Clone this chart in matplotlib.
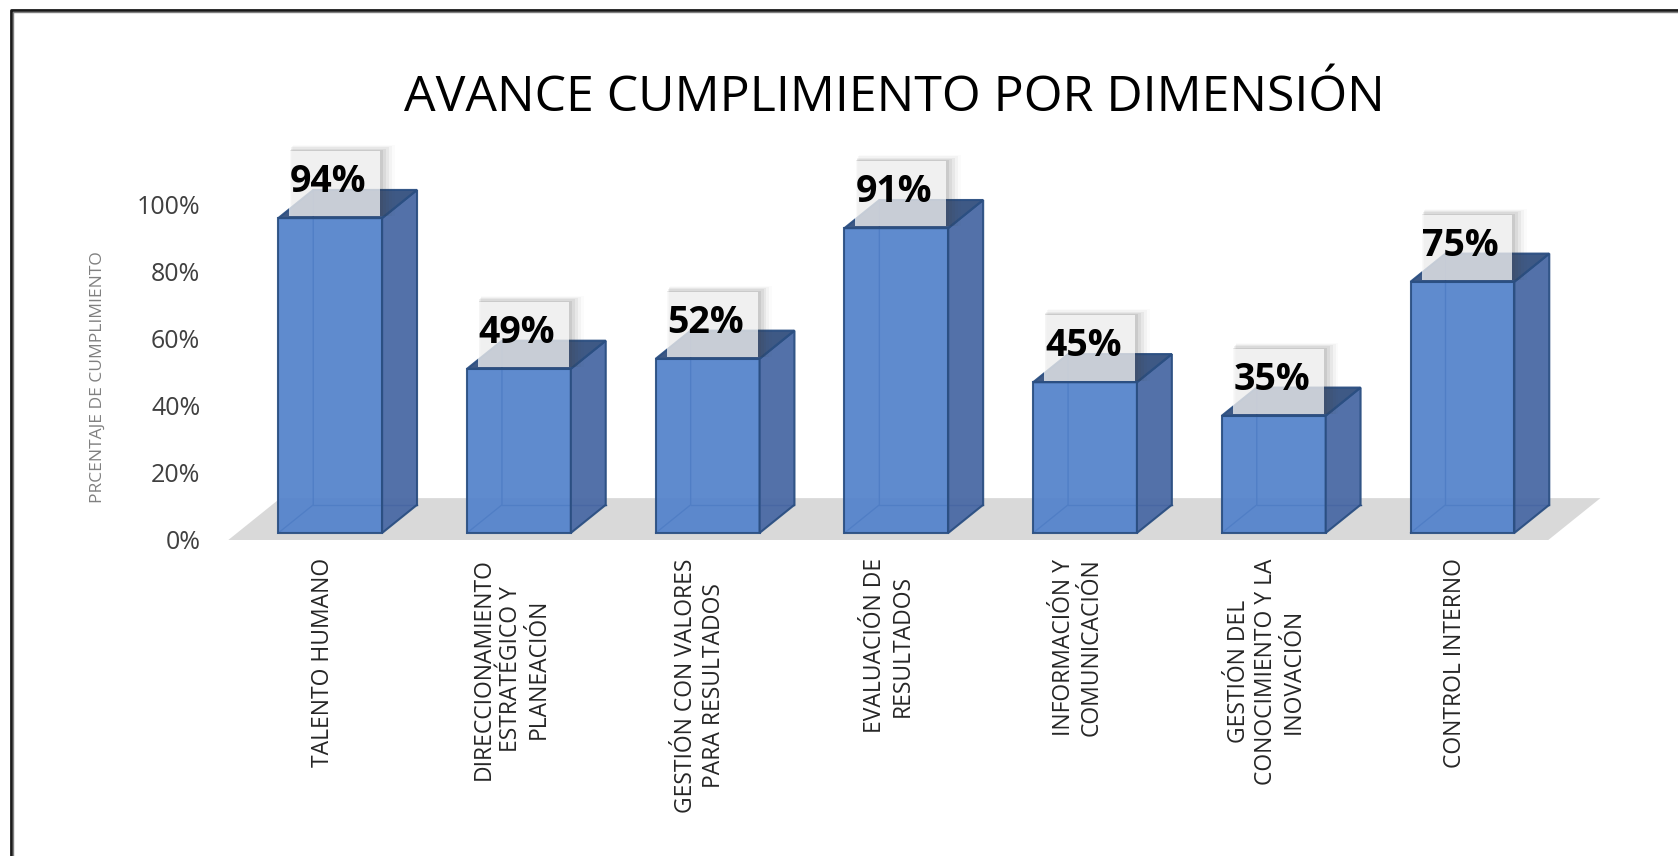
import numpy as np
import matplotlib
matplotlib.use('Agg')
import matplotlib.pyplot as plt
from matplotlib.patches import Polygon, Rectangle
from matplotlib.lines import Line2D
from matplotlib.transforms import ScaledTranslation

plt.rcParams['font.family'] = ['Open Sans', 'DejaVu Sans']

# data
categorias = ['TALENTO HUMANO',
              'DIRECCIONAMIENTO\nESTRATÉGICO Y\nPLANEACIÓN',
              'GESTIÓN CON VALORES\nPARA RESULTADOS',
              'EVALUACIÓN DE\nRESULTADOS',
              'INFORMACIÓN Y\nCOMUNICACIÓN',
              'GESTIÓN DEL\nCONOCIMIENTO Y LA\nINOVACIÓN',
              'CONTROL INTERNO']
avance = [0.94, 0.49, 0.52, 0.91, 0.45, 0.35, 0.75]
yticks = [0, 0.2, 0.4, 0.6, 0.8, 1.0]
ytick_labels = ['0%', '20%', '40%', '60%', '80%', '100%']

# look
W, H = 1678, 856
bar_w = 0.55
dx, dy = 0.185, 0.084          # depth of the 3d bars
fl_dx, fl_dy = 0.276, 0.125    # depth of the floor
c_front = '#5382cb'
c_side = '#4a69a5'
c_top = '#33507f'
c_edge = '#2b4f82'

fig = plt.figure(figsize=(W/100, H/100), dpi=100)
ax = fig.add_axes([217/W, (H-543)/H, 1387/W, 412/H])
ax.set_xlim(-0.6, 6.75)
ax.set_ylim(-0.03, 1.2)
for s in ax.spines.values():
    s.set_visible(False)

# floor
n = len(avance)
f0 = -0.021
fl_x0, fl_x1 = -0.54, n - 1 + 0.455
ax.add_patch(Polygon([(fl_x0, f0), (fl_x1, f0), (fl_x1+fl_dx, f0+fl_dy), (fl_x0+fl_dx, f0+fl_dy)],
                     closed=True, fc='#d9d9d9', ec='none', zorder=1))

for i, v in enumerate(avance):
    x0, x1 = i - bar_w/2, i + bar_w/2
    # back hidden edges (bars are slightly see-through)
    ax.add_line(Line2D([x0, x0+dx, x0+dx], [0, dy, v+dy], color=c_edge, lw=1, zorder=2))
    ax.add_line(Line2D([x0+dx, x1+dx], [dy, dy], color=c_edge, lw=1, zorder=2))
    front = Polygon([(x0, 0), (x1, 0), (x1, v), (x0, v)], closed=True,
                    fc=c_front, ec=c_edge, lw=1.5, alpha=0.93, zorder=3)
    side = Polygon([(x1, 0), (x1+dx, dy), (x1+dx, v+dy), (x1, v)], closed=True,
                   fc=c_side, ec=c_edge, lw=1.5, alpha=0.95, zorder=3)
    top = Polygon([(x0, v), (x1, v), (x1+dx, v+dy), (x0+dx, v+dy)], closed=True,
                  fc=c_top, ec=c_edge, lw=1.5, alpha=0.95, zorder=3)
    for p in (front, side, top):
        ax.add_patch(p)

    # label box with soft shadow
    bx0, bx1 = x0 + 0.058, x1 - 0.01
    by0, by1 = v + 0.005, v + 0.2
    for k, a in enumerate([0.10, 0.08, 0.06, 0.04, 0.02]):
        off = 0.012 * (k + 1)
        ax.add_patch(Rectangle((bx0 + off*0.3, by0), bx1 - bx0 + off, by1 - by0 + off*0.3,
                               fc='#404040', ec='none', alpha=a, zorder=4))
    ax.add_patch(Rectangle((bx0, by0), bx1 - bx0, by1 - by0,
                           fc='white', ec='none', alpha=0.72, zorder=5))
    ax.text(i - 0.01, v + 0.078, '{:.0f}%'.format(v*100), ha='center', va='baseline',
            fontsize=27, fontweight='bold', color='black', zorder=6)

ax.set_yticks(yticks, ytick_labels)
ax.tick_params(axis='y', length=0, pad=12, labelsize=18, labelcolor='#404040')
off = ScaledTranslation(0, -5/72, fig.dpi_scale_trans)
for lab in ax.get_yticklabels():
    lab.set_transform(lab.get_transform() + off)

ax.set_xticks(np.arange(n) - 0.04, categorias, rotation=90, ha='center', va='top',
              multialignment='center', linespacing=1.2)
ax.tick_params(axis='x', length=0, pad=11, labelsize=16.5, labelcolor='#262626')

ax.set_ylabel('PRCENTAJE DE CUMPLIMIENTO', fontsize=12.5, color='#808080')
ax.yaxis.set_label_coords(-0.08, 0.403)

fig.text(894/W, 1 - 98/H, 'AVANCE CUMPLIMIENTO POR DIMENSIÓN', ha='center', va='center',
         fontsize=36, color='black')

# outer border (top and left only, the rest is cut off)
fig.add_artist(Line2D([11/W, 11/W, 1.0], [0.0, 1 - 10/H, 1 - 10/H], transform=fig.transFigure,
                      color='#1a1a1a', lw=2))
fig.add_artist(Line2D([12.5/W, 12.5/W, 1.0], [0.0, 1 - 11.5/H, 1 - 11.5/H], transform=fig.transFigure,
                      color='#808080', lw=1))

fig.savefig('out.png', dpi=100, facecolor='white')
